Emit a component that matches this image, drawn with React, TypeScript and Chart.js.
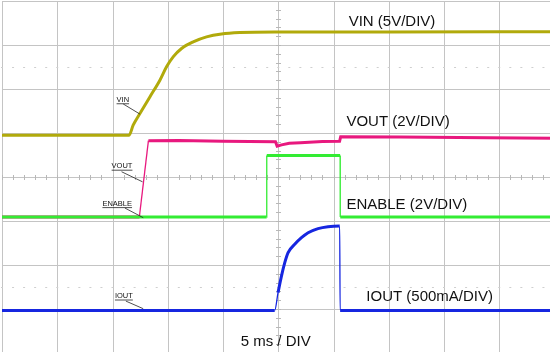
import React, { useEffect, useRef } from "react";
import { Chart, registerables } from "chart.js";
Chart.register(...registerables);

// time in ms (5 ms / div)
const vinTime = [0, 11.5, 11.87, 12.48, 13.38, 14.29, 14.89, 15.49, 16.25, 17.3, 18.51, 19.87, 21.52, 24.68, 35, 50];
const vinVolts = [0, 0, 1.14, 2.46, 4.35, 6.25, 7.77, 8.9, 9.85, 10.6, 11.17, 11.5, 11.66, 11.73, 11.74, 11.75];

const voutTime = [0, 12.43, 13.25, 16, 20, 24.75, 24.9, 25.3, 26.0, 27.0, 29.0, 30.55, 30.65, 36, 44, 50];
const voutVolts = [0, 0, 3.47, 3.48, 3.45, 3.42, 3.22, 3.28, 3.35, 3.38, 3.43, 3.44, 3.65, 3.64, 3.6, 3.58];

const enableTime = [0, 23.95, 23.96, 30.6, 30.61, 50];
const enableVolts = [0, 0, 2.8, 2.8, 0, 0];

const ioutTime = [0, 24.68, 24.98, 25.29, 25.59, 25.89, 26.49, 27.1, 27.7, 28.6, 29.5, 30.56, 30.6, 50];
const ioutMilliamps = [0, 0, 202, 391, 543, 657, 752, 827, 884, 930, 952, 960, 0, 0];

// channel settings: units per division and ground marker (in divisions from bottom)
const vinPerDiv = 5;
const vinGround = 4.95;
const voutPerDiv = 2;
const voutGround = 3.09;
const enablePerDiv = 2;
const enableGround = 3.09;
const ioutPerDiv = 500;
const ioutGround = 0.966;

const timeDivs = 10;
const msPerDiv = 5;
const verticalDivs = 8;

const channelLabels = ["VIN (5V/DIV)", "VOUT (2V/DIV)", "ENABLE (2V/DIV)", "IOUT (500mA/DIV)"];
const timebaseLabel = "5 ms / DIV";
const probeLabels = ["VIN", "VOUT", "ENABLE", "IOUT"];

function toPoints(ts: number[], vs: number[], perDiv: number, ground: number) {
  return ts.map((t, i) => ({ x: t, y: ground + vs[i] / perDiv }));
}

const segWidth = (w: number) => (c: any) => {
  const dx = Math.abs(c.p1.x - c.p0.x);
  const dy = Math.abs(c.p1.y - c.p0.y);
  return dy > dx * 5 ? 1.3 : w;
};

const scopePlugin = {
  id: "scope",
  beforeDatasetsDraw(chart: any) {
    const { ctx, chartArea, scales } = chart;
    const x = scales.x;
    const y = scales.y;
    ctx.save();
    ctx.strokeStyle = "#c4c4c4";
    ctx.lineWidth = 1;
    for (let i = 0; i <= timeDivs; i++) {
      const px = Math.round(x.getPixelForValue(i * msPerDiv)) + 0.5;
      ctx.beginPath();
      ctx.moveTo(px, chartArea.top);
      ctx.lineTo(px, chartArea.bottom);
      ctx.stroke();
    }
    for (let j = 0; j <= verticalDivs; j++) {
      const py = Math.round(y.getPixelForValue(j)) + 0.5;
      ctx.beginPath();
      ctx.moveTo(chartArea.left, py);
      ctx.lineTo(chartArea.right, py);
      ctx.stroke();
    }
    // dotted reference rows
    ctx.strokeStyle = "#cfcfcf";
    for (const d of [1.5, 6.5]) {
      const py = Math.round(y.getPixelForValue(d)) + 0.5;
      for (let t = 0; t <= timeDivs * msPerDiv; t += 1) {
        const px = x.getPixelForValue(t);
        ctx.beginPath();
        ctx.moveTo(px - 1, py);
        ctx.lineTo(px + 1, py);
        ctx.stroke();
      }
    }
    // center axis minor ticks
    ctx.strokeStyle = "#b8b8b8";
    const cy = Math.round(y.getPixelForValue(verticalDivs / 2)) + 0.5;
    for (let t = 0; t <= timeDivs * msPerDiv; t += 1) {
      const px = Math.round(x.getPixelForValue(t)) + 0.5;
      ctx.beginPath();
      ctx.moveTo(px, cy - 2.5);
      ctx.lineTo(px, cy + 2.5);
      ctx.stroke();
    }
    const cx = Math.round(x.getPixelForValue((timeDivs * msPerDiv) / 2)) + 0.5;
    for (let d = 0; d <= verticalDivs; d += 0.2) {
      const py = Math.round(y.getPixelForValue(d)) + 0.5;
      ctx.beginPath();
      ctx.moveTo(cx - 2.5, py);
      ctx.lineTo(cx + 2.5, py);
      ctx.stroke();
    }
    ctx.restore();
  },
  afterDraw(chart: any) {
    const { ctx, scales } = chart;
    const x = scales.x;
    const y = scales.y;
    ctx.save();
    ctx.fillStyle = "#111";
    ctx.font = '15px "Liberation Sans", Arial, sans-serif';
    ctx.textBaseline = "alphabetic";
    const big: [string, number, number][] = [
      [channelLabels[0], 31.37, 7.43],
      [channelLabels[1], 31.17, 5.16],
      [channelLabels[2], 31.17, 3.28],
      [channelLabels[3], 32.97, 1.18],
      [timebaseLabel, 21.6, 0.16],
    ];
    for (const [s, t, d] of big) {
      ctx.fillText(s, x.getPixelForValue(t), y.getPixelForValue(d));
    }
    // probe tags with leader lines
    ctx.font = '7.5px "Liberation Sans", Arial, sans-serif';
    ctx.strokeStyle = "#222";
    ctx.lineWidth = 0.8;
    const tags: [string, number, number, number, number, number, number][] = [
      [probeLabels[0], 10.37, 5.71, 10.97, 5.66, 12.48, 5.43],
      [probeLabels[1], 9.92, 4.2, 10.82, 4.12, 12.72, 3.89],
      [probeLabels[2], 9.09, 3.35, 11.12, 3.295, 12.78, 3.075],
      [probeLabels[3], 10.22, 1.25, 11.21, 1.18, 12.78, 1.007],
    ];
    for (const [s, t, d, t1, d1, t2, d2] of tags) {
      const px = x.getPixelForValue(t);
      const py = y.getPixelForValue(d);
      ctx.fillText(s, px, py);
      const w = ctx.measureText(s).width;
      ctx.beginPath();
      ctx.moveTo(px, py + 2);
      ctx.lineTo(px + w, py + 2);
      ctx.moveTo(x.getPixelForValue(t1), y.getPixelForValue(d1));
      ctx.lineTo(x.getPixelForValue(t2), y.getPixelForValue(d2));
      ctx.stroke();
    }
    ctx.restore();
  },
};

export default function App() {
  const ref = useRef<HTMLCanvasElement | null>(null);
  useEffect(() => {
    if (!ref.current) return;
    const chart = new Chart(ref.current, {
      type: "line",
      data: {
        datasets: [
          {
            label: "ENABLE",
            data: toPoints(enableTime, enableVolts, enablePerDiv, enableGround),
            borderColor: "#33ec33",
            borderWidth: 3,
            pointRadius: 0,
            order: 0,
            segment: { borderWidth: segWidth(3) },
          },
          {
            label: "IOUT",
            data: toPoints(ioutTime, ioutMilliamps, ioutPerDiv, ioutGround),
            borderColor: "#1626e0",
            borderWidth: 3,
            pointRadius: 0,
            order: 1,
            cubicInterpolationMode: "monotone",
            segment: { borderWidth: segWidth(3) },
          },
          {
            label: "VOUT",
            data: toPoints(voutTime, voutVolts, voutPerDiv, voutGround),
            borderColor: "#e8187e",
            borderWidth: 3,
            pointRadius: 0,
            order: 2,
            segment: { borderWidth: segWidth(3) },
          },
          {
            label: "VIN",
            data: toPoints(vinTime, vinVolts, vinPerDiv, vinGround),
            borderColor: "#b1aa0b",
            borderWidth: 3,
            pointRadius: 0,
            order: 3,
            cubicInterpolationMode: "monotone",
            segment: { borderWidth: segWidth(3) },
          },
        ],
      },
      options: {
        animation: false,
        responsive: false,
        devicePixelRatio: 1,
        layout: { padding: { left: 2, right: 3.5, top: 1, bottom: 3 } },
        plugins: { legend: { display: false }, tooltip: { enabled: false } },
        scales: {
          x: { type: "linear", display: false, min: 0, max: timeDivs * msPerDiv },
          y: { type: "linear", display: false, min: 0, max: verticalDivs },
        },
      },
      plugins: [scopePlugin],
    });
    return () => chart.destroy();
  }, []);
  return (
    <div style={{ position: "fixed", left: 0, top: 0, width: 550, height: 352, overflow: "hidden", background: "#fff" }}>
      <canvas ref={ref} width={558} height={356} style={{ display: "block", width: 558, height: 356 }} />
    </div>
  );
}
